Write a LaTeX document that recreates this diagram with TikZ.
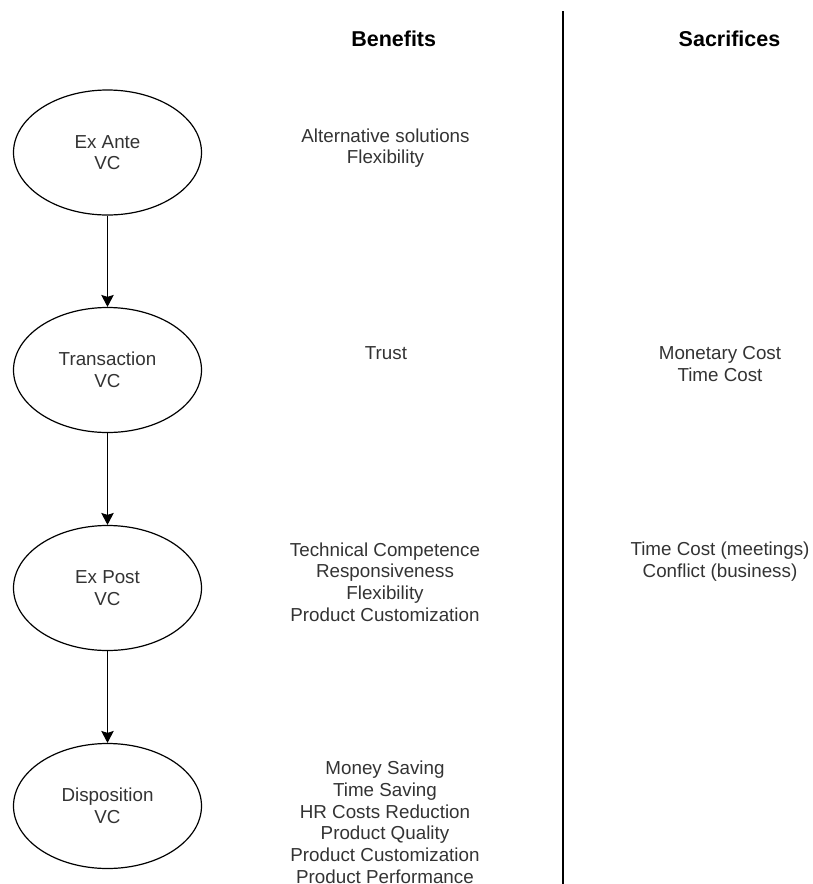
\documentclass[tikz,border=0pt]{standalone}
\usepackage{fontspec}
\setmainfont{Liberation Sans}
\usetikzlibrary{shapes.geometric,arrows.meta}
\definecolor{txt}{HTML}{333333}
\begin{document}
\begin{tikzpicture}[x=1pt,y=-1pt,
  vc/.style={ellipse,draw=black,line width=1.2pt,minimum width=188pt,minimum height=125pt,
    inner sep=0pt,align=center,text=txt,font=\fontsize{18.8}{21.7}\selectfont},
  itemlist/.style={anchor=north,inner sep=0pt,align=center,text=txt,
    font=\fontsize{18.8}{21.7}\selectfont},
  head/.style={anchor=north,inner sep=0pt,text=black,font=\bfseries\fontsize{21.5}{25}\selectfont},
  flow/.style={draw=black,line width=1.2pt,-{Stealth[length=12pt,width=12.5pt,inset=2pt]}},
  divider/.style={draw=black,line width=1.3pt}]
\useasboundingbox (0,0) rectangle (812,884);

% column headings and separator
\node[head] (benefits) at (393.7,30.5) {Benefits};
\node[head] (sacrifices) at (729.5,30.5) {Sacrifices};
\coordinate (divtop) at (563,11);
\coordinate (divbot) at (563,884);
\draw[divider] (divtop) -- (divbot);

% value-creation stages
\node[vc] (exante) at (107.5,152.5) {Ex Ante\\VC};
\node[vc] (trans)  at (107.5,370)   {Transaction\\VC};
\node[vc] (expost) at (107.5,588)   {Ex Post\\VC};
\node[vc] (dispo)  at (107.5,806)   {Disposition\\VC};

\draw[flow] (exante) -- (trans);
\draw[flow] (trans) -- (expost);
\draw[flow] (expost) -- (dispo);

% benefits per stage
\node[itemlist] (bexante) at (385.5,128.4) {Alternative solutions\\Flexibility};
\node[itemlist] (btrans)  at (386,346)     {Trust};
\node[itemlist] (bexpost) at (385,542.4)   {Technical Competence\\Responsiveness\\Flexibility\\Product Customization};
\node[itemlist] (bdispo)  at (385,761)     {Money Saving\\Time Saving\\HR Costs Reduction\\Product Quality\\Product Customization\\Product Performance};

% sacrifices per stage
\node[itemlist] (strans)  at (720,346)   {Monetary Cost\\Time Cost};
\node[itemlist] (sexpost) at (720,541.5) {Time Cost (meetings)\\Conflict (business)};
\end{tikzpicture}
\end{document}
